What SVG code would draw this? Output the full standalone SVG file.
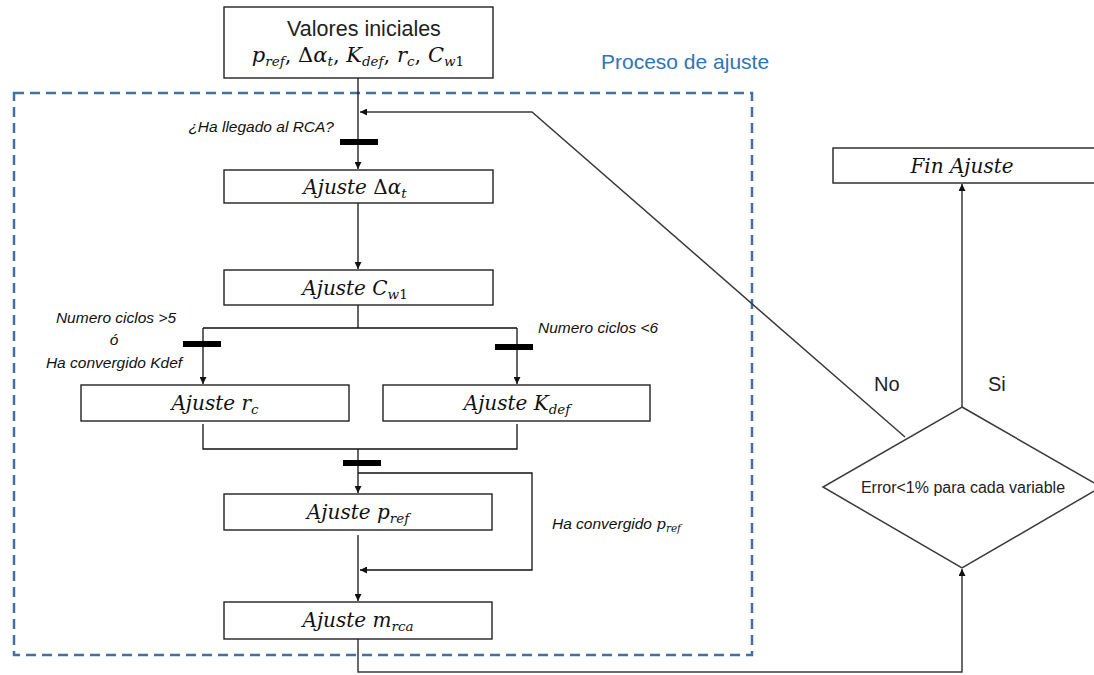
<svg xmlns="http://www.w3.org/2000/svg" width="1094" height="675" viewBox="0 0 1094 675">
<style>
.box{fill:#fff;stroke:#222;stroke-width:1.4}
.ln{fill:none;stroke:#111;stroke-width:1.3}
.gl{fill:none;stroke:#3a3a3a;stroke-width:1.5}
.m{font-family:"DejaVu Serif","Liberation Serif",serif;font-style:italic;font-size:20px;fill:#111;text-anchor:middle}
.up{font-style:normal}
.sub{font-size:13.5px}
.lab{font-family:"Liberation Sans",sans-serif;font-style:italic;font-size:15.5px;fill:#111}
.san{font-family:"Liberation Sans",sans-serif;fill:#222}
.bar{fill:#000}
</style>
<defs>
<marker id="ah" viewBox="0 0 8 8" refX="8" refY="4" markerWidth="7" markerHeight="7" markerUnits="userSpaceOnUse" orient="auto"><path d="M0,0 L8,4 L0,8 z" fill="#111"/></marker>
</defs>
<rect x="14" y="93" width="738" height="562" fill="none" stroke="#41719C" stroke-width="2.5" stroke-dasharray="10 6"/>
<text x="601" y="69" class="san" font-size="21" style="fill:#2E75B6">Proceso de ajuste</text>
<g id="connectors">
<path class="ln" d="M358,78 V169" marker-end="url(#ah)"/>
<path class="gl" d="M905,437 L532,112 H360" marker-end="url(#ah)"/>
<path class="ln" d="M358,202 V269" marker-end="url(#ah)"/>
<path class="ln" d="M358,305 V328 M203,328 H517"/>
<path class="ln" d="M203,328 V384" marker-end="url(#ah)"/>
<path class="ln" d="M517,328 V384" marker-end="url(#ah)"/>
<path class="ln" d="M203,424 V449 H517 V424"/>
<path class="ln" d="M358,449 V493" marker-end="url(#ah)"/>
<path class="ln" d="M358,473 H532 V570 H360" marker-end="url(#ah)"/>
<path class="ln" d="M358,535 V601" marker-end="url(#ah)"/>
<path class="gl" d="M358,639 V672 H962 V569" marker-end="url(#ah)"/>
<path class="gl" d="M962,407 V184" marker-end="url(#ah)"/>
<rect class="bar" x="340" y="139" width="38" height="6"/>
<rect class="bar" x="183" y="341" width="38" height="6"/>
<rect class="bar" x="495" y="344" width="38" height="6"/>
<rect class="bar" x="343" y="460" width="38" height="6"/>
<text x="334" y="132" class="lab" text-anchor="end">¿Ha llegado al RCA?</text>
<text x="116" y="323" class="lab" text-anchor="middle">Numero ciclos &gt;5</text>
<text x="114" y="345" class="lab" text-anchor="middle">ó</text>
<text x="114" y="368" class="lab" text-anchor="middle">Ha convergido Kdef</text>
<text x="538" y="333" class="lab">Numero ciclos &lt;6</text>
<text x="552" y="529" class="lab">Ha convergido <tspan font-family="DejaVu Serif" font-size="15">p</tspan><tspan font-family="DejaVu Serif" font-size="10.5" dy="3">ref</tspan></text>
<text x="874" y="391" class="san" font-size="20">No</text>
<text x="988" y="391" class="san" font-size="20">Si</text>
</g>
<g id="n-init">
<rect class="box" x="224" y="7" width="269" height="71"/>
<text x="364" y="36" class="san" font-size="21.5" text-anchor="middle">Valores iniciales</text>
<text x="358" y="62" class="m" font-size="21" style="font-size:21px">p<tspan class="sub" dy="4">ref</tspan><tspan dy="-4" class="up">, Δ</tspan>α<tspan class="sub" dy="4">t</tspan><tspan dy="-4" class="up">, </tspan>K<tspan class="sub" dy="4">def</tspan><tspan dy="-4" class="up">, </tspan>r<tspan class="sub" dy="4">c</tspan><tspan dy="-4" class="up">, </tspan>C<tspan class="sub" dy="4">w<tspan class="up">1</tspan></tspan></text>
</g>
<g id="n-dalpha">
<rect class="box" x="224" y="170" width="269" height="33"/>
<text x="355" y="194" class="m">Ajuste <tspan class="up">Δ</tspan>α<tspan class="sub" dy="4">t</tspan></text>
</g>
<g id="n-cw1">
<rect class="box" x="224" y="270" width="269" height="35"/>
<text x="355" y="295" class="m">Ajuste C<tspan class="sub" dy="4">w<tspan class="up">1</tspan></tspan></text>
</g>
<g id="n-rc">
<rect class="box" x="81" y="385" width="268" height="36"/>
<text x="215" y="410" class="m">Ajuste r<tspan class="sub" dy="4">c</tspan></text>
</g>
<g id="n-kdef">
<rect class="box" x="383" y="385" width="267" height="36"/>
<text x="517" y="410" class="m">Ajuste K<tspan class="sub" dy="4">def</tspan></text>
</g>
<g id="n-pref">
<rect class="box" x="224" y="494" width="268" height="36"/>
<text x="358" y="519" class="m">Ajuste p<tspan class="sub" dy="4">ref</tspan></text>
</g>
<g id="n-mrca">
<rect class="box" x="224" y="602" width="268" height="37"/>
<text x="358" y="627" class="m">Ajuste m<tspan class="sub" dy="4">rca</tspan></text>
</g>
<g id="n-fin">
<rect class="box" x="833" y="148" width="270" height="35"/>
<text x="962" y="173" class="m">Fin Ajuste</text>
</g>
<g id="n-decision">
<polygon points="962,407 1101,487 962,568 823,487" fill="#fff" stroke="#3a3a3a" stroke-width="1.5"/>
<text x="963" y="493" class="san" font-size="16" text-anchor="middle">Error&lt;1% para cada variable</text>
</g>
</svg>
